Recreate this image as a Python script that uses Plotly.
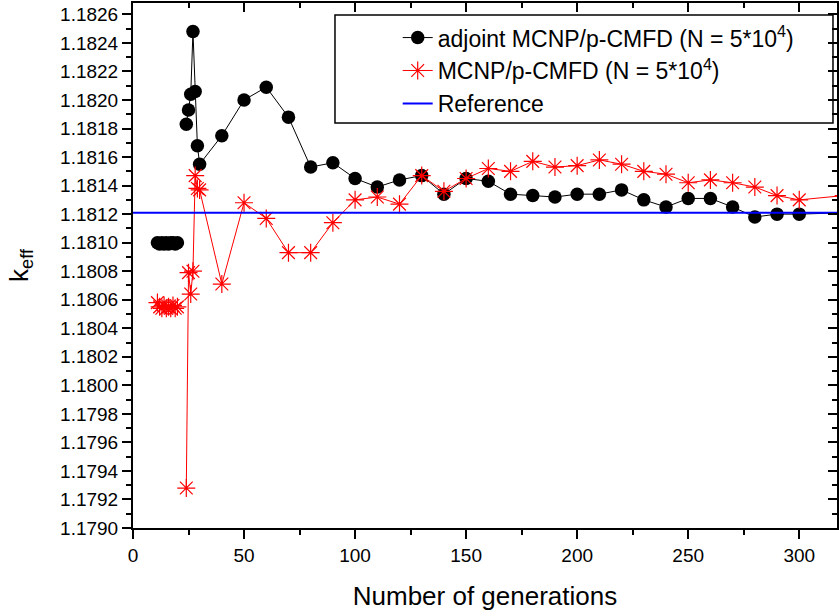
import plotly.graph_objects as go

# ---------------- data ----------------
gen_adj = [11, 12, 13, 14, 15, 16, 17, 18, 19, 20, 22,
           24, 25, 26, 27, 28, 29, 30, 40, 50, 60, 70, 80, 90, 100,
           110, 120, 130, 140, 150, 160, 170, 180, 190, 200,
           210, 220, 230, 240, 250, 260, 270, 280, 290, 300, 320]
k_adj = [1.18100, 1.18099, 1.18100, 1.18099, 1.18100, 1.18099, 1.18100, 1.18100, 1.18099, 1.18100, None,
         1.18183, 1.18193, 1.18204, 1.18248, 1.18206, 1.18168, 1.18155, 1.18175, 1.18200, 1.18209,
         1.18188, 1.18153, 1.18156, 1.18145, 1.18139, 1.18144, 1.18147, 1.18134, 1.18145, 1.18143,
         1.18134, 1.18133, 1.18132, 1.18134, 1.18134, 1.18137, 1.18130, 1.18125, 1.18131, 1.18131,
         1.18125, 1.18118, 1.18120, 1.18120, 1.18121]

gen_std = [11, 12, 13, 14, 15, 16, 17, 18, 19, 20, 22,
           24, 25, 26, 27, 28, 29, 30, 40, 50, 60, 70, 80, 90, 100,
           110, 120, 130, 140, 150, 160, 170, 180, 190, 200,
           210, 220, 230, 240, 250, 260, 270, 280, 290, 300, 320]
k_std = [1.18058, 1.18055, 1.18054, 1.18056, 1.18054, 1.18055, 1.18054, 1.18056, 1.18054, 1.18055, None,
         1.17928, 1.18079, 1.18064, 1.18080, 1.18147, 1.18138, 1.18137, 1.18071, 1.18128, 1.18117,
         1.18093, 1.18093, 1.18114, 1.18130, 1.18132, 1.18127, 1.18147, 1.18136, 1.18145, 1.18152,
         1.18150, 1.18157, 1.18153, 1.18154, 1.18158, 1.18155, 1.18150, 1.18148, 1.18142, 1.18144,
         1.18142, 1.18139, 1.18133, 1.18130, 1.18133]

ref_x = [0, 330]
ref_k = [1.18121, 1.18121]

names = ["adjoint MCNP/p-CMFD (N = 5*10<sup>4</sup>)",
         "MCNP/p-CMFD (N = 5*10<sup>4</sup>)",
         "Reference"]

x_range = [0, 317]
y_range = [1.1790, 1.18268]

FONT = "Liberation Sans, Arial, sans-serif"

fig = go.Figure()
fig.add_trace(go.Scatter(
    x=gen_adj, y=k_adj, name=names[0], mode="lines+markers",
    line=dict(color="black", width=1),
    marker=dict(symbol="circle", size=13.5, color="black"),
    connectgaps=False, cliponaxis=True))
fig.add_trace(go.Scatter(
    x=gen_std, y=k_std, name=names[1], mode="lines+markers",
    line=dict(color="red", width=1),
    marker=dict(symbol="asterisk-open", size=15, color="red",
                line=dict(color="red", width=1.2)),
    connectgaps=False, cliponaxis=True))
fig.add_trace(go.Scatter(
    x=ref_x, y=ref_k, name=names[2], mode="lines",
    line=dict(color="#0000ff", width=2),
    xaxis="x2", yaxis="y2"))

axis_common = dict(showgrid=False, zeroline=False, showline=True,
                   linecolor="black", linewidth=2, tickcolor="black",
                   tickwidth=1.5)

fig.update_layout(
    width=839, height=616,
    margin=dict(l=133, r=2, t=3, b=88),
    paper_bgcolor="white", plot_bgcolor="white",
    font=dict(family=FONT, color="black", size=18),
    xaxis=dict(range=x_range, dtick=50, tick0=0, ticks="outside", ticklen=9,
               minor=dict(ticks="outside", ticklen=5, dtick=25, tickcolor="black", tickwidth=1.5),
               tickfont=dict(size=19),
               title=dict(text="Number of generations", font=dict(size=26), standoff=22),
               **axis_common),
    yaxis=dict(range=y_range, dtick=0.0002, tick0=1.1790, tickformat=".4f",
               ticks="outside", ticklen=9,
               minor=dict(ticks="outside", ticklen=5, dtick=0.0001, tickcolor="black", tickwidth=1.5),
               tickfont=dict(size=19),
               title=dict(text="k<sub>eff</sub>", font=dict(size=26), standoff=24),
               **axis_common),
    xaxis2=dict(range=x_range, overlaying="x", side="top", anchor="y2",
                dtick=50, tick0=0, ticks="inside", ticklen=9, showticklabels=False,
                minor=dict(ticks="inside", ticklen=5, dtick=25, tickcolor="black", tickwidth=1.5),
                **axis_common),
    yaxis2=dict(range=y_range, overlaying="y", side="right", anchor="x2",
                dtick=0.0002, tick0=1.1790, ticks="inside", ticklen=9, showticklabels=False,
                minor=dict(ticks="inside", ticklen=5, dtick=0.0001, tickcolor="black", tickwidth=1.5),
                **axis_common),
    showlegend=True,
    legend=dict(x=0.376, y=0.975, xanchor="left", yanchor="top",
                bgcolor="rgba(0,0,0,0)", borderwidth=0,
                font=dict(size=23, family=FONT), tracegroupgap=0,
                itemwidth=30),
    shapes=[dict(type="rect", xref="paper", yref="paper",
                 x0=0.2869, x1=0.9943, y0=0.7714, y1=0.9771,
                 line=dict(color="black", width=1.5), fillcolor="white",
                 layer="below")],
)

fig.write_html("out.html")
